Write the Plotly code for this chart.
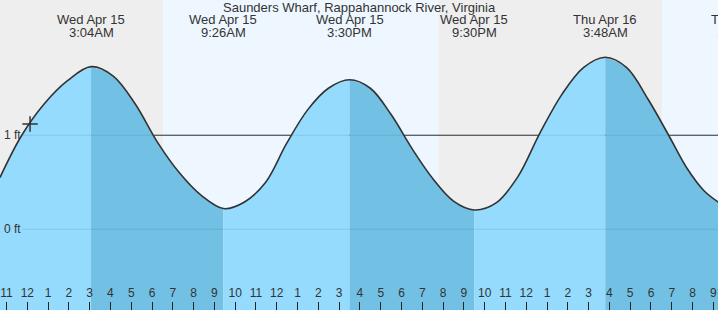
import plotly.graph_objects as go
from datetime import datetime

# ---------------- data ----------------
tide_times = [
    "2020-04-14 22:41", "2020-04-14 23:44", "2020-04-15 00:48", "2020-04-15 01:56",
    "2020-04-15 03:04", "2020-04-15 04:08", "2020-04-15 05:12", "2020-04-15 06:15",
    "2020-04-15 07:19", "2020-04-15 08:22", "2020-04-15 09:26", "2020-04-15 10:27",
    "2020-04-15 11:28", "2020-04-15 12:28", "2020-04-15 13:29", "2020-04-15 14:29",
    "2020-04-15 15:30", "2020-04-15 16:30", "2020-04-15 17:30", "2020-04-15 18:30",
    "2020-04-15 19:30", "2020-04-15 20:30", "2020-04-15 21:30", "2020-04-15 22:33",
    "2020-04-15 23:36", "2020-04-16 00:39", "2020-04-16 01:42", "2020-04-16 02:45",
    "2020-04-16 03:48", "2020-04-16 04:50", "2020-04-16 05:52", "2020-04-16 06:51",
    "2020-04-16 07:42", "2020-04-16 08:33", "2020-04-16 09:14",
]
tide_heights = [
    0.55, 1.00, 1.33, 1.58,
    1.73, 1.63, 1.33, 0.93,
    0.60, 0.36, 0.22, 0.29,
    0.50, 0.91, 1.27, 1.50,
    1.59, 1.50, 1.22, 0.86,
    0.54, 0.30, 0.205, 0.28,
    0.56, 1.02, 1.43, 1.72,
    1.83, 1.72, 1.38, 1.00,
    0.66, 0.41, 0.29,
]

extreme_times = ["2020-04-15 03:04", "2020-04-15 09:26", "2020-04-15 15:30",
                 "2020-04-15 21:30", "2020-04-16 03:48", "2020-04-16 10:25"]
extreme_day_labels = ["Wed Apr 15", "Wed Apr 15", "Wed Apr 15", "Wed Apr 15",
                      "Thu Apr 16", "Thu Apr 16"]
extreme_time_labels = ["3:04AM", "9:26AM", "3:30PM", "9:30PM", "3:48AM", "10:25AM"]

night_periods = [("2020-04-14 22:41", "2020-04-15 06:32"),
                 ("2020-04-15 19:46", "2020-04-16 06:32")]
day_periods = [("2020-04-15 06:32", "2020-04-15 19:46"),
               ("2020-04-16 06:32", "2020-04-16 09:14")]

midnight_ticks = ["2020-04-15 00:00", "2020-04-16 00:00"]
current_time = ["2020-04-15 00:08"]
current_height = [1.12]

x_range = ["2020-04-14 22:41:13", "2020-04-16 09:13:23"]
y_range = [-0.859, 2.439]
y_labels = [1, 0]

title_text = "Saunders Wharf, Rappahannock River, Virginia"

# ---------------- styles ----------------
FONT = "Liberation Sans, Arial, sans-serif"
TXT = "#333333"
NIGHT = "#eeeeee"
DAY = "#eef7ff"
LIGHT = "#94dbfd"
DARK = "#72c1e5"
W, H = 718, 310

fig = go.Figure()

# split curve at extremes: rising = light, falling = dark
ext_idx = [tide_times.index(t) for t in extreme_times if t in tide_times]
bounds = [0] + ext_idx + [len(tide_times) - 1]
for k in range(len(bounds) - 1):
    a, b = bounds[k], bounds[k + 1]
    xs = tide_times[a:b + 1]
    ys = tide_heights[a:b + 1]
    rising = ys[-1] > ys[0]
    fig.add_trace(go.Scatter(x=xs, y=[y_range[0] - 1] * len(xs), mode="lines",
                             line=dict(width=0), hoverinfo="skip", showlegend=False))
    fig.add_trace(go.Scatter(x=xs, y=ys, mode="lines", line=dict(width=0, shape="spline"),
                             fill="tonexty", fillcolor=LIGHT if rising else DARK,
                             hoverinfo="skip", showlegend=False))

# outline
fig.add_trace(go.Scatter(x=tide_times, y=tide_heights, mode="lines",
                         line=dict(color="#333333", width=1.6, shape="spline"),
                         hoverinfo="skip", showlegend=False))
# current marker
fig.add_trace(go.Scatter(x=current_time, y=current_height, mode="markers",
                         marker=dict(symbol="cross-thin", size=11,
                                     line=dict(color="#333333", width=1.5)),
                         hoverinfo="skip", showlegend=False))

shapes = []
for s, e in night_periods:
    shapes.append(dict(type="rect", xref="x", yref="paper", x0=s, x1=e, y0=0, y1=1,
                       fillcolor=NIGHT, line=dict(width=0), layer="below"))
for s, e in day_periods:
    shapes.append(dict(type="rect", xref="x", yref="paper", x0=s, x1=e, y0=0, y1=1,
                       fillcolor=DAY, line=dict(width=0), layer="below"))
# 1 ft reference line (dark, behind the water)
shapes.append(dict(type="line", xref="paper", yref="y", x0=22 / W, x1=1, y0=1, y1=1,
                   line=dict(color="#333333", width=1.2), layer="below"))
# faint grid lines over the water
for v in y_labels:
    shapes.append(dict(type="line", xref="paper", yref="y", x0=22 / W, x1=1, y0=v, y1=v,
                       line=dict(color="rgba(40,90,130,0.15)", width=1.2), layer="above"))
# thick midnight ticks
for m in midnight_ticks:
    shapes.append(dict(type="line", xref="x", yref="paper", ysizemode="pixel", yanchor=0,
                       x0=m, x1=m, y0=0, y1=-8, line=dict(color="#222222", width=3),
                       layer="above"))

annotations = [dict(text=title_text, xref="paper", yref="paper", x=0.5, y=1 - 7.5 / H,
                    showarrow=False, yanchor="middle", xanchor="center",
                    font=dict(family=FONT, size=13, color=TXT))]

fmt = "%Y-%m-%d %H:%M"
t_start = datetime.strptime(x_range[0], "%Y-%m-%d %H:%M:%S")
t_end = datetime.strptime(x_range[1], "%Y-%m-%d %H:%M:%S")
span = (t_end - t_start).total_seconds()
for t, d, tl in zip(extreme_times, extreme_day_labels, extreme_time_labels):
    frac = (datetime.strptime(t, fmt) - t_start).total_seconds() / span
    for txt, cy in ((d, 20), (tl, 32.5)):
        annotations.append(dict(text=txt, xref="paper", yref="paper", x=frac,
                                y=1 - cy / H, showarrow=False, xanchor="center",
                                yanchor="middle", font=dict(family=FONT, size=13, color=TXT)))
for v in y_labels:
    annotations.append(dict(text=f"{v} ft", xref="paper", yref="y", x=0, y=v, xshift=2,
                            xanchor="left", yanchor="middle", showarrow=False,
                            font=dict(family=FONT, size=12, color=TXT)))

fig.update_layout(
    width=W, height=H, margin=dict(l=0, r=0, t=0, b=0),
    paper_bgcolor="white", plot_bgcolor="white",
    shapes=shapes, annotations=annotations, showlegend=False,
    xaxis=dict(type="date", range=x_range, showgrid=False, zeroline=False, showline=False,
               dtick=3600000, tick0="2020-04-14 00:00", tickformat="%-I",
               ticks="inside", ticklen=8, tickwidth=1, tickcolor="#222222",
               ticklabelposition="inside", ticklabelstandoff=2,
               tickfont=dict(family=FONT, size=12, color=TXT)),
    yaxis=dict(range=y_range, showgrid=False, zeroline=False, showticklabels=False,
               showline=False),
)

fig.write_html("out.html")
